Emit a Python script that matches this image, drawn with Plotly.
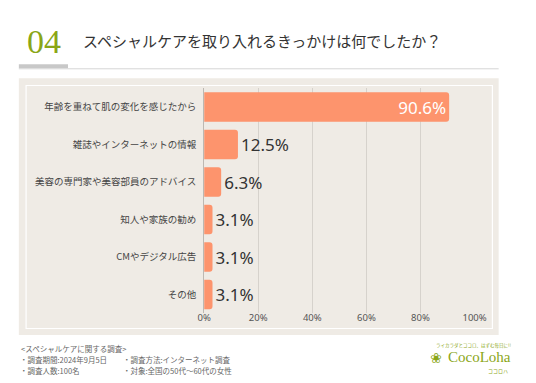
import plotly.graph_objects as go

categories = ["年齢を重ねて肌の変化を感じたから", "雑誌やインターネットの情報", "美容の専門家や美容部員のアドバイス",
              "知人や家族の勧め", "CMやデジタル広告", "その他"]
values = [90.6, 12.5, 6.3, 3.1, 3.1, 3.1]
tick_vals = [0, 20, 40, 60, 80, 100]
tick_text = ["0%", "20%", "40%", "60%", "80%", "100%"]
title_num = "04"
title_text = "スペシャルケアを取り入れるきっかけは何でしたか？"
footer_lines = [
    ("<スペシャルケアに関する調査>", 12, 348),
    ("・調査期間:2024年9月5日", 11, 359.5),
    ("・調査方法:インターネット調査", 118, 359.5),
    ("・調査人数:100名", 11, 370.5),
    ("・対象:全国の50代〜60代の女性", 118, 370.5),
]

# The page body keeps an 8px margin, so the figure is drawn 16px smaller and offset by 8px.
OFF = 8
W, H = 536 - 2 * OFF, 383 - 2 * OFF
def px(x): return (x - OFF) / W
def py(y): return 1 - (y - OFF) / H

BAR = "#fd946d"
PANEL = "#efebe5"
GREEN = "#8aa617"
JP = "Noto Sans CJK JP"

texts = [f"{v}%" for v in values]
fig = go.Figure(go.Bar(
    x=values, y=categories, orientation="h",
    marker=dict(color=BAR, line=dict(width=0)),
    width=0.79,
    text=texts,
    textposition=["inside"] + ["outside"] * 5,
    insidetextanchor="end",
    textfont=dict(family="Noto Sans", size=17),
    insidetextfont=dict(color="white", size=17, family="Noto Sans"),
    outsidetextfont=dict(color="#333333", size=17, family="Noto Sans"),
    cliponaxis=False,
))

shapes = [
    dict(type="rect", xref="paper", yref="paper", x0=px(12), x1=px(63), y0=py(64.3), y1=py(68.3),
         fillcolor="#c8c8c8", line=dict(width=0), layer="below"),
    dict(type="line", xref="paper", yref="paper", x0=px(12), x1=px(510), y0=py(68.8), y1=py(68.8),
         line=dict(color="#d5d5d5", width=1), layer="below"),
    dict(type="rect", xref="paper", yref="paper", x0=px(12), x1=px(510), y0=py(78.3), y1=py(335),
         fillcolor=PANEL, line=dict(width=0), layer="below"),
    dict(type="rect", xref="paper", yref="paper", x0=px(19.5), x1=px(503.5), y0=py(85.5), y1=py(328.5),
         fillcolor=PANEL, line=dict(color="white", width=1.2), layer="below"),
]

annotations = [
    dict(text=title_num, x=px(18), y=py(41), xref="paper", yref="paper", xanchor="left", yanchor="middle",
         showarrow=False, font=dict(family="Liberation Serif", size=34, color=GREEN)),
    dict(text=title_text, x=px(77), y=py(40.5), xref="paper", yref="paper", xanchor="left", yanchor="middle",
         showarrow=False, font=dict(family=JP, size=15, color="#333333")),
]
for t, x, y in footer_lines:
    annotations.append(dict(text=t, x=px(x), y=py(y), xref="paper", yref="paper", xanchor="left",
                            yanchor="middle", showarrow=False, font=dict(family=JP, size=7.5, color="#666666")))
# logo
annotations += [
    dict(text="ライカラダとココロ、はずむ毎日に!!", x=px(484), y=py(345.5), xref="paper", yref="paper",
         xanchor="center", yanchor="middle", showarrow=False, font=dict(family=JP, size=4.5, color=GREEN)),
    dict(text="❀", x=px(445), y=py(357.5), xref="paper", yref="paper", xanchor="center", yanchor="middle",
         showarrow=False, font=dict(family="DejaVu Sans", size=14, color=GREEN)),
    dict(text="CocoLoha", x=px(455), y=py(357), xref="paper", yref="paper", xanchor="left", yanchor="middle",
         showarrow=False, font=dict(family="Liberation Serif", size=15, color=GREEN)),
    dict(text="ココロハ", x=px(509), y=py(370.5), xref="paper", yref="paper", xanchor="center", yanchor="middle",
         showarrow=False, font=dict(family=JP, size=5, color=GREEN), borderpad=0),
]

fig.update_layout(
    width=W, height=H, autosize=False,
    margin=dict(l=0, r=0, t=0, b=0),
    paper_bgcolor="white", plot_bgcolor=PANEL,
    showlegend=False,
    shapes=shapes, annotations=annotations,
    barcornerradius=3,
    xaxis=dict(domain=[px(204.3), px(485)], range=[0, 100], tickvals=tick_vals, ticktext=tick_text,
               showgrid=True, gridcolor="#d6d2cc", gridwidth=1, zeroline=False, showline=False,
               tickfont=dict(family="Noto Sans", size=9.5, color="#555555"), ticks="",
               ticklabelstandoff=-3, fixedrange=True),
    yaxis=dict(domain=[py(313.25), py(88.25)], categoryorder="array", categoryarray=categories[::-1],
               range=[-0.5, 5.5],
               tickfont=dict(family=JP, size=9.5, color="#444444"), ticks="", ticklabelstandoff=5,
               showline=True, linecolor="#bdb8b2", linewidth=1, showgrid=False, fixedrange=True),
)

fig.write_html("out.html", config={"displayModeBar": False})
